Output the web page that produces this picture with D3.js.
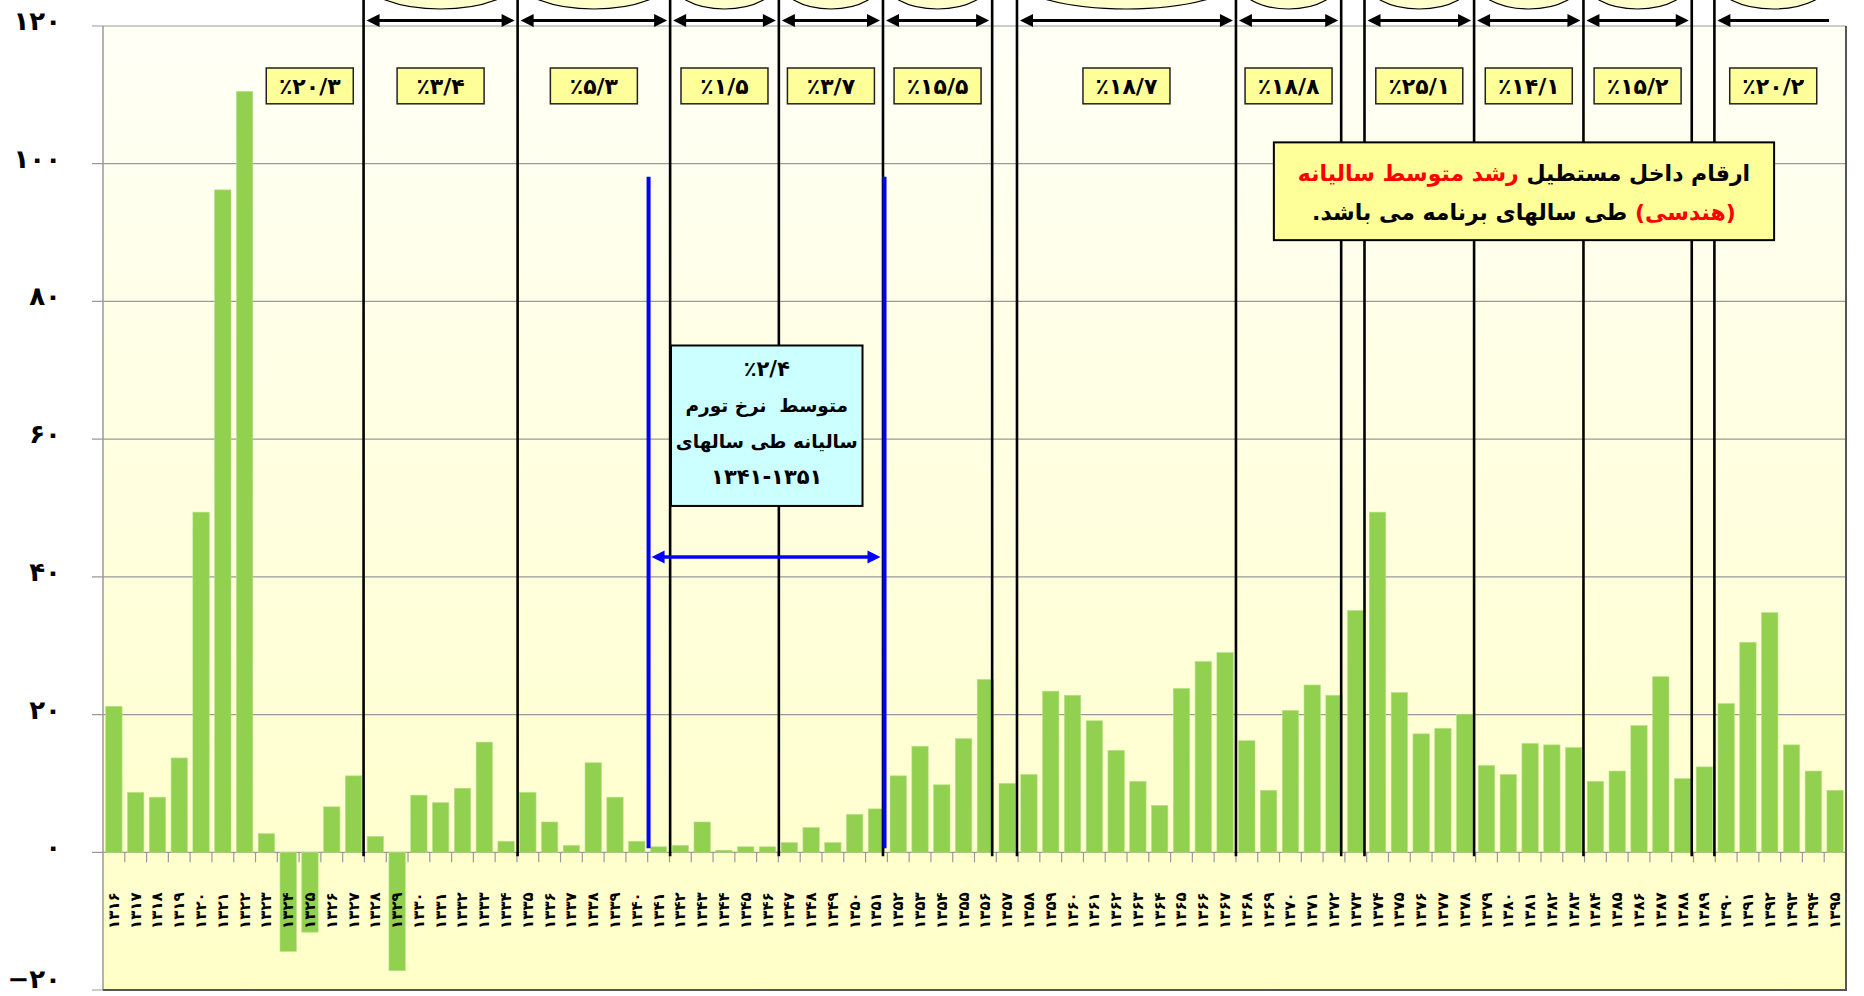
<!DOCTYPE html>
<html>
<head>
<meta charset="utf-8">
<script src="https://cdn.jsdelivr.net/npm/d3@7"></script>
<style>
  body { margin: 0; background: #fff; }
  text { font-family: "DejaVu Sans", sans-serif; }
</style>
</head>
<body>
<div id="vis"></div>
<script>
// inflation chart, years 1316-1395

const FRAME_WIDTH = 1864;
const FRAME_HEIGHT = 996;
const MARGINS = {left: 103, right: 18, top: 26, bottom: 6};

const years = [1316, 1317, 1318, 1319, 1320, 1321, 1322, 1323, 1324, 1325,
               1326, 1327, 1328, 1329, 1330, 1331, 1332, 1333, 1334, 1335,
               1336, 1337, 1338, 1339, 1340, 1341, 1342, 1343, 1344, 1345,
               1346, 1347, 1348, 1349, 1350, 1351, 1352, 1353, 1354, 1355,
               1356, 1357, 1358, 1359, 1360, 1361, 1362, 1363, 1364, 1365,
               1366, 1367, 1368, 1369, 1370, 1371, 1372, 1373, 1374, 1375,
               1376, 1377, 1378, 1379, 1380, 1381, 1382, 1383, 1384, 1385,
               1386, 1387, 1388, 1389, 1390, 1391, 1392, 1393, 1394, 1395];

const inflation = [21.2, 8.7, 8.0, 13.7, 49.4, 96.2, 110.5, 2.7, -14.4, -11.6,
                   6.6, 11.1, 2.3, -17.2, 8.3, 7.2, 9.3, 16.0, 1.6, 8.7,
                   4.4, 1.0, 13.0, 8.0, 1.6, 0.8, 1.0, 4.4, 0.3, 0.8,
                   0.8, 1.4, 3.6, 1.4, 5.5, 6.3, 11.1, 15.4, 9.8, 16.5,
                   25.1, 10.0, 11.3, 23.4, 22.8, 19.1, 14.8, 10.3, 6.8, 23.8,
                   27.7, 29.0, 16.2, 9.0, 20.6, 24.3, 22.8, 35.1, 49.4, 23.2,
                   17.2, 18.0, 20.0, 12.6, 11.3, 15.8, 15.6, 15.2, 10.3, 11.8,
                   18.4, 25.5, 10.7, 12.4, 21.6, 30.5, 34.8, 15.6, 11.8, 9.0];

const yTicks = [-20, 0, 20, 40, 60, 80, 100, 120];

// program boundaries (in years, fractional = inside that year's slot)
const dividers = [1327.96, 1335.03, 1342.03, 1347.02, 1351.80, 1356.81, 1357.95,
                  1368.0, 1372.83, 1373.90, 1378.93, 1383.95, 1388.92, 1389.96];

// program spans with average growth
const progStart = [1322.98, 1327.96, 1335.03, 1342.03, 1347.02, 1351.80, 1357.95, 1368.0, 1373.90, 1378.93, 1383.95, 1389.96];
const progEnd   = [1327.96, 1335.03, 1342.03, 1347.02, 1351.80, 1356.81, 1368.0, 1372.83, 1378.93, 1383.95, 1388.92, 1395.36];
const progRate  = [20.3, 3.4, 5.3, 1.5, 3.7, 15.5, 18.7, 18.8, 25.1, 14.1, 15.2, 20.2];

const FA = "۰۱۲۳۴۵۶۷۸۹";
function toFa(s) { return String(s).replace(/[0-9]/g, (d) => FA[+d]).replace("-", "\u2212"); }

const VIS_WIDTH = FRAME_WIDTH - MARGINS.left - MARGINS.right;
const VIS_HEIGHT = FRAME_HEIGHT - MARGINS.top - MARGINS.bottom;

const svg = d3.select("#vis")
  .append("svg")
    .attr("width", FRAME_WIDTH)
    .attr("height", FRAME_HEIGHT);

const X_SCALE = d3.scaleBand()
  .domain(years)
  .range([MARGINS.left, MARGINS.left + VIS_WIDTH])
  .paddingInner(0.25)
  .paddingOuter(0.125);

// continuous year position, year y covers [y, y+1)
const X_YEAR = d3.scaleLinear()
  .domain([years[0], years[years.length - 1] + 1])
  .range([MARGINS.left, MARGINS.left + VIS_WIDTH]);

const Y_SCALE = d3.scaleLinear()
  .domain([-20, 120])
  .range([MARGINS.top + VIS_HEIGHT, MARGINS.top]);

// plot background
const defs = svg.append("defs");
const grad = defs.append("linearGradient")
  .attr("id", "bg").attr("x1", 0).attr("y1", 0).attr("x2", 0).attr("y2", 1);
grad.append("stop").attr("offset", "0%").attr("stop-color", "#fffff6");
grad.append("stop").attr("offset", "100%").attr("stop-color", "#ffffc8");

svg.append("rect")
  .attr("x", MARGINS.left)
  .attr("y", MARGINS.top)
  .attr("width", VIS_WIDTH)
  .attr("height", VIS_HEIGHT)
  .attr("fill", "url(#bg)");

// gridlines + y labels
svg.append("g")
  .selectAll("line")
  .data(yTicks)
  .enter()
  .append("line")
    .attr("x1", MARGINS.left - 11)
    .attr("x2", MARGINS.left + VIS_WIDTH)
    .attr("y1", (d) => Y_SCALE(d))
    .attr("y2", (d) => Y_SCALE(d))
    .attr("stroke", "#9a9a9a")
    .attr("stroke-width", 1.2);

svg.append("g")
  .selectAll("text")
  .data(yTicks)
  .enter()
  .append("text")
    .attr("x", 61)
    .attr("y", (d) => Math.min(Y_SCALE(d) + 4, FRAME_HEIGHT - 8))
    .attr("text-anchor", "end")
    .attr("font-size", "26px")
    .attr("font-weight", "bold")
    .text((d) => toFa(d));

svg.append("line")
  .attr("x1", MARGINS.left).attr("x2", MARGINS.left)
  .attr("y1", MARGINS.top).attr("y2", MARGINS.top + VIS_HEIGHT)
  .attr("stroke", "#9a9a9a").attr("stroke-width", 1.5);

// bars
svg.append("g")
  .selectAll("rect")
  .data(inflation)
  .enter()
  .append("rect")
    .attr("x", (d, i) => X_SCALE(years[i]))
    .attr("width", X_SCALE.bandwidth())
    .attr("y", (d) => Y_SCALE(Math.max(0, d)))
    .attr("height", (d) => Math.abs(Y_SCALE(d) - Y_SCALE(0)))
    .attr("fill", "#92d050")
    .attr("stroke", "#b6e08a")
    .attr("stroke-width", 0.6);

// x axis ticks at slot edges
const y0 = Y_SCALE(0);
svg.append("g")
  .selectAll("line")
  .data(years.slice(1))
  .enter()
  .append("line")
    .attr("x1", (d) => X_YEAR(d))
    .attr("x2", (d) => X_YEAR(d))
    .attr("y1", y0)
    .attr("y2", y0 + 10)
    .attr("stroke", "#9a9a9a")
    .attr("stroke-width", 1.2);

svg.append("g")
  .selectAll("text")
  .data(years)
  .enter()
  .append("text")
    .attr("transform", (d) => "translate(" + (X_SCALE(d) + X_SCALE.bandwidth() / 2) + "," + (y0 + 40) + ") rotate(-90)")
    .attr("text-anchor", "end")
    .attr("dominant-baseline", "central")
    .attr("font-size", "15px")
    .attr("font-weight", "bold")
    .attr("letter-spacing", "1.5px")
    .text((d) => toFa(d));

// frame right + bottom
svg.append("path")
  .attr("d", "M" + (MARGINS.left + VIS_WIDTH) + "," + (MARGINS.top) +
             "V" + (MARGINS.top + VIS_HEIGHT) + "H" + MARGINS.left)
  .attr("fill", "none").attr("stroke", "#555").attr("stroke-width", 2);

// program divider lines
svg.append("g")
  .selectAll("line")
  .data(dividers)
  .enter()
  .append("line")
    .attr("x1", (d) => X_YEAR(d))
    .attr("x2", (d) => X_YEAR(d))
    .attr("y1", 0)
    .attr("y2", y0 + 4)
    .attr("stroke", "#000")
    .attr("stroke-width", 2.6);

function arrow(g, x1, x2, y, color, w, heads) {
  const hl = 13, hw = 6.5;
  g.append("line")
    .attr("x1", heads[0] ? x1 + hl - 2 : x1).attr("x2", heads[1] ? x2 - hl + 2 : x2)
    .attr("y1", y).attr("y2", y)
    .attr("stroke", color).attr("stroke-width", w);
  if (heads[0]) {
    g.append("path").attr("d", "M" + x1 + "," + y + "L" + (x1 + hl) + "," + (y - hw) + "L" + (x1 + hl) + "," + (y + hw) + "Z").attr("fill", color);
  }
  if (heads[1]) {
    g.append("path").attr("d", "M" + x2 + "," + y + "L" + (x2 - hl) + "," + (y - hw) + "L" + (x2 - hl) + "," + (y + hw) + "Z").attr("fill", color);
  }
}

// top ellipses (cut by the page edge) and arrows for each program
const topG = svg.append("g");
progStart.forEach((s, i) => {
  if (i === 0) return;
  const xa = X_YEAR(s), xb = X_YEAR(progEnd[i]);
  const mid = (xa + xb) / 2;
  topG.append("ellipse")
    .attr("cx", mid)
    .attr("cy", -21)
    .attr("rx", (xb - xa) * 0.5)
    .attr("ry", 30)
    .attr("fill", "#ffffcc")
    .attr("stroke", "#000")
    .attr("stroke-width", 1.2);
  arrow(topG, xa + 3, xb - 3, 20.5, "#000", 3, [true, i !== progStart.length - 1]);
});

// rate boxes
const boxG = svg.append("g");
progRate.forEach((r, i) => {
  const mid = i === 0 ? X_YEAR(1325.49) : (X_YEAR(progStart[i]) + X_YEAR(progEnd[i])) / 2;
  const yTop = Y_SCALE(113.9), yBot = Y_SCALE(108.7);
  boxG.append("rect")
    .attr("x", mid - 43.5).attr("y", yTop)
    .attr("width", 87).attr("height", yBot - yTop)
    .attr("fill", "#ffff99").attr("stroke", "#222").attr("stroke-width", 1.5);
  boxG.append("text")
    .attr("x", mid).attr("y", (yTop + yBot) / 2 + 1)
    .attr("text-anchor", "middle")
    .attr("dominant-baseline", "central")
    .attr("font-size", "22px")
    .attr("font-weight", "bold")
    .text("٪" + toFa(String(r).replace(".", "/")));
});

// blue 1341-1351 span
const blueG = svg.append("g");
[1341.04, 1351.87].forEach((d) => {
  blueG.append("line")
    .attr("x1", X_YEAR(d)).attr("x2", X_YEAR(d))
    .attr("y1", Y_SCALE(98.1)).attr("y2", Y_SCALE(0.6))
    .attr("stroke", "#0000ff").attr("stroke-width", 4);
});
arrow(blueG, X_YEAR(1341.04) + 3, X_YEAR(1351.87) - 4, Y_SCALE(42.9), "#0000ff", 3.5, [true, true]);

const cx1 = X_YEAR(1342.07), cx2 = X_YEAR(1350.86);
const cy1 = Y_SCALE(73.6), cy2 = Y_SCALE(50.3);
blueG.append("rect")
  .attr("x", cx1).attr("y", cy1)
  .attr("width", cx2 - cx1).attr("height", cy2 - cy1)
  .attr("fill", "#ccffff").attr("stroke", "#000").attr("stroke-width", 2);
const cyanLines = ["٪۲/۴", "متوسط  نرخ تورم", "سالیانه طی سالهای", "۱۳۴۱-۱۳۵۱"];
blueG.append("g")
  .selectAll("text")
  .data(cyanLines)
  .enter()
  .append("text")
    .attr("x", (cx1 + cx2) / 2)
    .attr("y", (d, i) => cy1 + 24 + i * 36)
    .attr("text-anchor", "middle")
    .attr("dominant-baseline", "central")
    .attr("direction", (d, i) => (i === 1 || i === 2) ? "rtl" : "ltr")
    .attr("font-size", (d, i) => (i === 1 || i === 2) ? "18.5px" : "21px")
    .attr("font-weight", "bold")
    .attr("xml:space", "preserve")
    .text((d) => d);

// note box
const nx1 = X_YEAR(1369.74), nx2 = X_YEAR(1392.70);
const ny1 = Y_SCALE(103.1), ny2 = Y_SCALE(88.9);
svg.append("rect")
  .attr("x", nx1).attr("y", ny1)
  .attr("width", nx2 - nx1).attr("height", ny2 - ny1)
  .attr("fill", "#ffff99").attr("stroke", "#000").attr("stroke-width", 2);

const note1 = svg.append("text")
  .attr("x", (nx1 + nx2) / 2).attr("y", ny1 + 31)
  .attr("text-anchor", "middle").attr("dominant-baseline", "central")
  .attr("direction", "rtl")
  .attr("font-size", "22px").attr("font-weight", "bold");
note1.append("tspan").attr("fill", "#000").text("ارقام داخل مستطیل ");
note1.append("tspan").attr("fill", "#ff0000").text("رشد متوسط سالیانه");

const note2 = svg.append("text")
  .attr("x", (nx1 + nx2) / 2).attr("y", ny1 + 70)
  .attr("text-anchor", "middle").attr("dominant-baseline", "central")
  .attr("direction", "rtl")
  .attr("font-size", "22px").attr("font-weight", "bold");
note2.append("tspan").attr("fill", "#ff0000").text("(هندسی)");
note2.append("tspan").attr("fill", "#000").text(" طی سالهای برنامه می باشد.");
</script>
</body>
</html>
